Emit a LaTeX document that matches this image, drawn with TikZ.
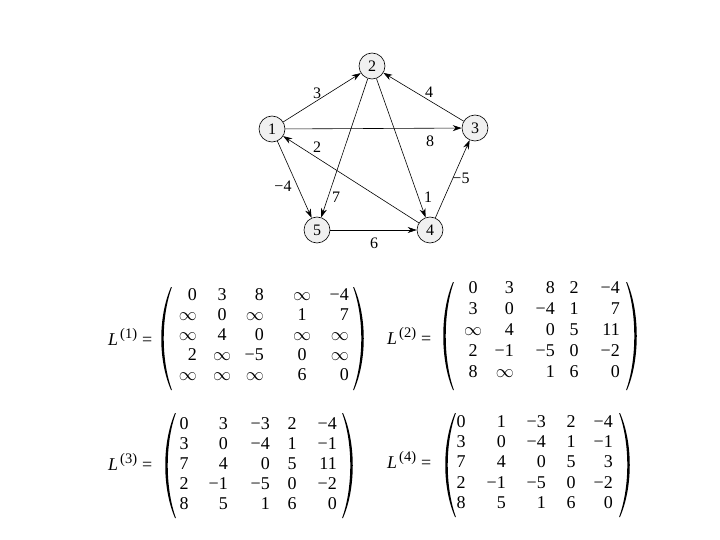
\RequirePackage{fix-cm}
\documentclass[tikz,border=0pt]{standalone}
\usepackage{fontspec}
\setmainfont{Liberation Serif}
\usetikzlibrary{arrows.meta}
\newcommand\inff{$\infty$}
\newcommand\Lsup[1]{\textit{L}\kern2pt\raisebox{7pt}{\fontsize{14.5}{14.5}\selectfont(#1)}\kern5pt=}
\newcommand\lparen[3]{\fill (#1,#2) .. controls (#1-13,#2+30) and (#1-13,#3-30) .. (#1,#3) -- (#1+0.9,#3) .. controls (#1-10,#3-30) and (#1-10,#2+30) .. (#1+0.9,#2) -- cycle;}
\newcommand\rparen[3]{\fill (#1,#2) .. controls (#1+13,#2+30) and (#1+13,#3-30) .. (#1,#3) -- (#1-0.9,#3) .. controls (#1+10,#3-30) and (#1+10,#2+30) .. (#1-0.9,#2) -- cycle;}
% #1 name, #2 first row y, #3 row step, #4 column x list, #5 alignment list (1 right, 0 centre), #6 rows
\newcommand\mentries[6]{%
  \foreach \row [count=\r] in {#6} {
    \foreach \e [count=\c] in \row {
      \pgfmathsetmacro\xx{{#4}[\c-1]}
      \pgfmathtruncatemacro\al{{#5}[\c-1]}
      \pgfmathsetmacro\yy{#2+(\r-1)*#3}
      \ifnum\al=1
        \node[entry,anchor=mid east] (#1-\r-\c) at (\xx,\yy) {\e};
      \else
        \node[entry,anchor=mid] (#1-\r-\c) at (\xx,\yy) {\e};
      \fi
    }
  }}
\begin{document}
\begin{tikzpicture}[x=1pt,y=-1pt,
  vertex/.style={circle,draw,line width=0.6pt,fill=gray!12,minimum size=26pt,inner sep=0pt,font=\fontsize{16}{16}\selectfont},
  edge/.style={line width=0.6pt,-{Stealth[length=9pt,width=6pt]}},
  wlabel/.style={inner sep=0pt,font=\fontsize{16}{16}\selectfont},
  entry/.style={inner sep=0pt,font=\fontsize{18}{20}\selectfont},
  mlabel/.style={inner sep=0pt,anchor=west,font=\fontsize{18}{20}\selectfont}]
\useasboundingbox (0,0) rectangle (720,540);

% graph
\node[vertex] (v1) at (272,129) {1};
\node[vertex] (v2) at (372,66) {2};
\node[vertex] (v3) at (475,128) {3};
\node[vertex] (v4) at (430,230) {4};
\node[vertex] (v5) at (317,230) {5};

\draw[edge] (v1) -- (v2);
\draw[edge] (v1) -- (v3);
\draw[edge] (v1) -- (v5);
\draw[edge] (v2) -- (v5);
\draw[edge] (v2) -- (v4);
\draw[edge] (v3) -- (v2);
\draw[edge] (v4) -- (v3);
\draw[edge] (v4) -- (v1);
\draw[edge] (v5) -- (v4);

\node[wlabel] (w12) at (317,93) {3};
\node[wlabel] (w32) at (429,92) {4};
\node[wlabel] (w13) at (430,141) {8};
\node[wlabel] (w41) at (317,147) {2};
\node[wlabel] (w15) at (283,186) {−4};
\node[wlabel] (w25) at (336,197) {7};
\node[wlabel] (w24) at (428,197) {1};
\node[wlabel] (w43) at (461,178) {−5};
\node[wlabel] (w54) at (374,243) {6};

% L(1)
\node[mlabel] (L1) at (108,337) {\Lsup{1}};
\lparen{171}{287}{390}
\rparen{354}{287}{390}
\mentries{ma}{298}{20}{197,222,264,302,349}{1,0,1,0,1}{{0,3,8,\inff,−4},{\inff,0,\inff,1,7},{\inff,4,0,\inff,\inff},{2,\inff,−5,0,\inff},{\inff,\inff,\inff,6,0}}

% L(2)
\node[mlabel] (L2) at (387,336) {\Lsup{2}};
\lparen{453}{282}{390}
\rparen{627}{282}{390}
\mentries{mb}{291}{21}{473,514,555,574,620}{0,1,1,0,1}{{0,3,8,2,−4},{3,0,−4,1,7},{\inff,4,0,5,11},{2,−1,−5,0,−2},{8,\inff,1,6,0}}

% L(3)
\node[mlabel] (L3) at (108,462) {\Lsup{3}};
\lparen{175}{413}{518}
\rparen{343}{413}{518}
\mentries{mc}{427}{20}{184,228,270,292,337}{0,1,1,0,1}{{0,3,−3,2,−4},{3,0,−4,1,−1},{7,4,0,5,11},{2,−1,−5,0,−2},{8,5,1,6,0}}

% L(4)
\node[mlabel] (L4) at (387,460) {\Lsup{4}};
\lparen{455}{413}{517}
\rparen{620}{413}{517}
\mentries{md}{425}{20.25}{461,506,546,571,613}{0,1,1,0,1}{{0,1,−3,2,−4},{3,0,−4,1,−1},{7,4,0,5,3},{2,−1,−5,0,−2},{8,5,1,6,0}}
\end{tikzpicture}
\end{document}
